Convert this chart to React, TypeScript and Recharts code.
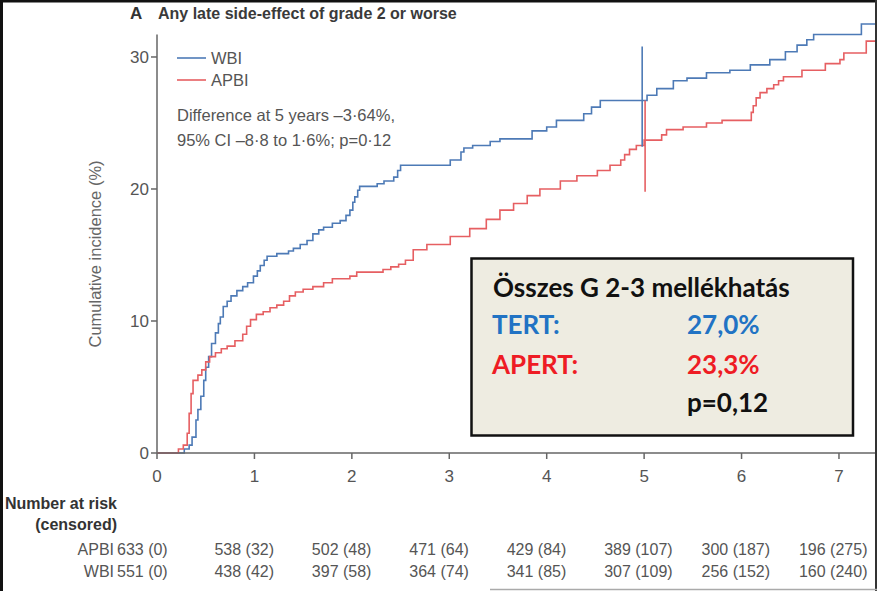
import React from "react";
import { LineChart, Line, XAxis, YAxis, ReferenceLine } from "recharts";

// WBI (whole breast) cumulative incidence, step points
const wbiTime = [0, 0.28, 0.33, 0.36, 0.4, 0.42, 0.45, 0.48, 0.5, 0.53, 0.56, 0.6, 0.63, 0.65, 0.68, 0.72, 0.76, 0.82, 0.88, 0.93, 0.99, 1.03, 1.06, 1.1, 1.13, 1.23, 1.35, 1.4, 1.47, 1.54, 1.6, 1.66, 1.71, 1.8, 1.88, 1.94, 1.98, 2.01, 2.03, 2.06, 2.08, 2.26, 2.33, 2.43, 2.47, 2.5, 3.01, 3.12, 3.15, 3.24, 3.42, 3.52, 3.85, 4.0, 4.1, 4.38, 4.46, 4.55, 5.03, 5.13, 5.3, 5.44, 5.64, 5.88, 6.09, 6.29, 6.45, 6.57, 6.67, 6.74, 7.23, 7.38];
const wbiValue = [0, 0.3, 0.6, 1.2, 2.5, 3.3, 4.3, 5.5, 6.5, 7.3, 8.3, 9.1, 9.8, 10.3, 11.1, 11.5, 11.9, 12.3, 12.6, 12.9, 13.4, 13.8, 14.2, 14.6, 14.9, 15.1, 15.3, 15.5, 15.8, 16.1, 16.6, 16.9, 17.1, 17.4, 17.6, 18.0, 18.4, 19.0, 19.4, 19.9, 20.2, 20.4, 20.6, 20.9, 21.4, 21.8, 22.2, 22.8, 23.1, 23.3, 23.6, 23.8, 24.4, 24.7, 25.2, 25.7, 26.2, 26.7, 27.1, 27.6, 28.2, 28.4, 28.8, 29.0, 29.4, 29.8, 30.4, 30.9, 31.3, 31.7, 32.5, 32.5];

// APBI (partial breast)
const apbiTime = [0, 0.22, 0.27, 0.31, 0.33, 0.35, 0.37, 0.42, 0.46, 0.5, 0.54, 0.6, 0.66, 0.72, 0.8, 0.88, 0.92, 0.96, 1.02, 1.09, 1.16, 1.23, 1.3, 1.36, 1.42, 1.5, 1.6, 1.71, 1.8, 1.98, 2.05, 2.32, 2.4, 2.48, 2.55, 2.63, 2.77, 3.01, 3.21, 3.38, 3.52, 3.66, 3.8, 3.93, 4.14, 4.31, 4.52, 4.65, 4.76, 4.8, 4.85, 4.92, 5.0, 5.18, 5.23, 5.4, 5.64, 5.8, 6.1, 6.12, 6.15, 6.19, 6.26, 6.33, 6.38, 6.43, 6.62, 6.86, 7.01, 7.05, 7.28, 7.38];
const apbiValue = [0, 0.3, 0.6, 1.5, 3.0, 4.5, 5.5, 5.9, 6.3, 6.9, 7.3, 7.6, 7.9, 8.1, 8.5, 9.0, 9.6, 10.1, 10.5, 10.7, 11.0, 11.2, 11.5, 11.9, 12.2, 12.4, 12.6, 12.9, 13.2, 13.4, 13.7, 13.9, 14.1, 14.3, 14.6, 15.4, 15.8, 16.4, 17.0, 17.7, 18.4, 18.9, 19.5, 20.0, 20.6, 21.0, 21.4, 21.8, 22.2, 22.6, 23.0, 23.3, 23.7, 24.1, 24.5, 24.7, 25.0, 25.2, 25.8, 26.3, 26.9, 27.3, 27.6, 27.9, 28.2, 28.5, 29.0, 29.5, 29.8, 30.3, 31.2, 31.2];

// 95% CI bars at 5 years
const wbiCiTime = 4.98;
const wbiCi = [23.2, 30.8];
const apbiCiTime = 5.01;
const apbiCi = [19.8, 26.7];

const yearTicks = [0, 1, 2, 3, 4, 5, 6, 7];
const yTicks = [0, 10, 20, 30];

const apbiRisk = [633, 538, 502, 471, 429, 389, 300, 196];
const apbiCensored = [0, 32, 48, 64, 84, 107, 187, 275];
const wbiRisk = [551, 438, 397, 364, 341, 307, 256, 160];
const wbiCensored = [0, 42, 58, 74, 85, 109, 152, 240];

const wbiData = wbiTime.map((t, i) => ({ t, v: wbiValue[i] }));
const apbiData = apbiTime.map((t, i) => ({ t, v: apbiValue[i] }));

const BLUE = "#4d7ab6";
const RED = "#e65f62";
const FONT = "'Liberation Sans', Arial, sans-serif";
const GREY = "#555";

function YearTick(props: any) {
  const { x, y, payload } = props;
  const i = yearTicks.indexOf(payload.value);
  return (
    <g fontFamily={FONT} fill={GREY}>
      <text x={x} y={y + 21} textAnchor="middle" fontSize={17}>{payload.value}</text>
      <text x={x - 40} y={y + 94} fontSize={16}>{`${apbiRisk[i]} (${apbiCensored[i]})`}</text>
      <text x={x - 40} y={y + 116} fontSize={16}>{`${wbiRisk[i]} (${wbiCensored[i]})`}</text>
    </g>
  );
}

export default function App() {
  return (
    <div style={{ position: "absolute", left: 0, top: 0, width: 877, height: 591, background: "#fff" }}>
      <LineChart width={877} height={591} margin={{ top: 22, right: 1, bottom: 0, left: 97 }}>
        <XAxis
          type="number"
          dataKey="t"
          domain={[0, 7.38]}
          ticks={yearTicks}
          height={138}
          tickSize={6}
          axisLine={{ stroke: "#666", strokeWidth: 1.5 }}
          tickLine={{ stroke: "#666", strokeWidth: 1.5 }}
          tick={<YearTick />}
          interval={0}
        />
        <YAxis
          type="number"
          domain={[0, 32.65]}
          ticks={yTicks}
          width={60}
          tickSize={6}
          axisLine={false}
          tickLine={{ stroke: "#666", strokeWidth: 1.5 }}
          tick={{ fill: GREY, fontSize: 17, fontFamily: FONT }}
        />
        <ReferenceLine segment={[{ x: 0, y: 0 }, { x: 0, y: 31.7 }]} stroke="#666" strokeWidth={1.5} />
        <Line data={wbiData} dataKey="v" type="stepAfter" stroke={BLUE} strokeWidth={1.6} dot={false} isAnimationActive={false} />
        <Line data={apbiData} dataKey="v" type="stepAfter" stroke={RED} strokeWidth={1.6} dot={false} isAnimationActive={false} />
        <ReferenceLine segment={[{ x: wbiCiTime, y: wbiCi[0] }, { x: wbiCiTime, y: wbiCi[1] }]} stroke={BLUE} strokeWidth={1.6} />
        <ReferenceLine segment={[{ x: apbiCiTime, y: apbiCi[0] }, { x: apbiCiTime, y: apbiCi[1] }]} stroke={RED} strokeWidth={1.6} />
      </LineChart>

      <svg width={877} height={591} style={{ position: "absolute", left: 0, top: 0, pointerEvents: "none" }}>
        {/* title */}
        <text x={130} y={19} fontFamily={FONT} fontWeight="bold" fontSize={17} fill="#333">A</text>
        <text x={158} y={19} fontFamily={FONT} fontWeight="bold" fontSize={16} fill="#3a3a3a">Any late side-effect of grade 2 or worse</text>

        {/* legend */}
        <line x1={177} x2={206} y1={58} y2={58} stroke={BLUE} strokeWidth={1.6} />
        <line x1={177} x2={206} y1={80} y2={80} stroke={RED} strokeWidth={1.6} />
        <g fontFamily={FONT} fontSize={16.5} fill={GREY}>
          <text x={211} y={64}>WBI</text>
          <text x={211} y={86}>APBI</text>
          <text x={177} y={121}>Difference at 5 years –3·64%,</text>
          <text x={177} y={146}>95% CI –8·8 to 1·6%; p=0·12</text>
        </g>

        {/* y axis title */}
        <text x={0} y={0} transform="translate(101 254) rotate(-90)" textAnchor="middle" fontFamily={FONT} fontSize={16.5} fill="#666">
          Cumulative incidence (%)
        </text>

        {/* number at risk labels */}
        <g fontFamily={FONT} fill="#333" textAnchor="end">
          <text x={117} y={509} fontSize={16} fontWeight="bold">Number at risk</text>
          <text x={117} y={530} fontSize={16} fontWeight="bold">(censored)</text>
        </g>
        <g fontFamily={FONT} fill={GREY} textAnchor="end" fontSize={16}>
          <text x={114} y={555}>APBI</text>
          <text x={114} y={577}>WBI</text>
        </g>

        {/* summary box */}
        <rect x={471.5} y={258.5} width={381.5} height={177} fill="#eeece1" stroke="#111" strokeWidth={2.5} />
        <g fontFamily="Lato, 'Open Sans', sans-serif" fontWeight="bold" fontSize={26}>
          <text x={493} y={297} fill="#111">Összes G 2-3 mellékhatás</text>
          <text x={492} y={334} fill="#2173c4">TERT:</text>
          <text x={687} y={334} fill="#2173c4">27,0%</text>
          <text x={492} y={374} fill="#ee1c24">APERT:</text>
          <text x={687} y={374} fill="#ee1c24">23,3%</text>
          <text x={687} y={412} fill="#111">p=0,12</text>
        </g>

        {/* frame of the cropped slide */}
        <rect x={0} y={0} width={3} height={591} fill="#111" />
        <rect x={0} y={0} width={877} height={2.5} fill="#111" />
        <rect x={875} y={0} width={2} height={591} fill="#333" />
        <line x1={490} x2={877} y1={589.5} y2={589.5} stroke="#aaa" strokeWidth={1.5} />
      </svg>
    </div>
  );
}
